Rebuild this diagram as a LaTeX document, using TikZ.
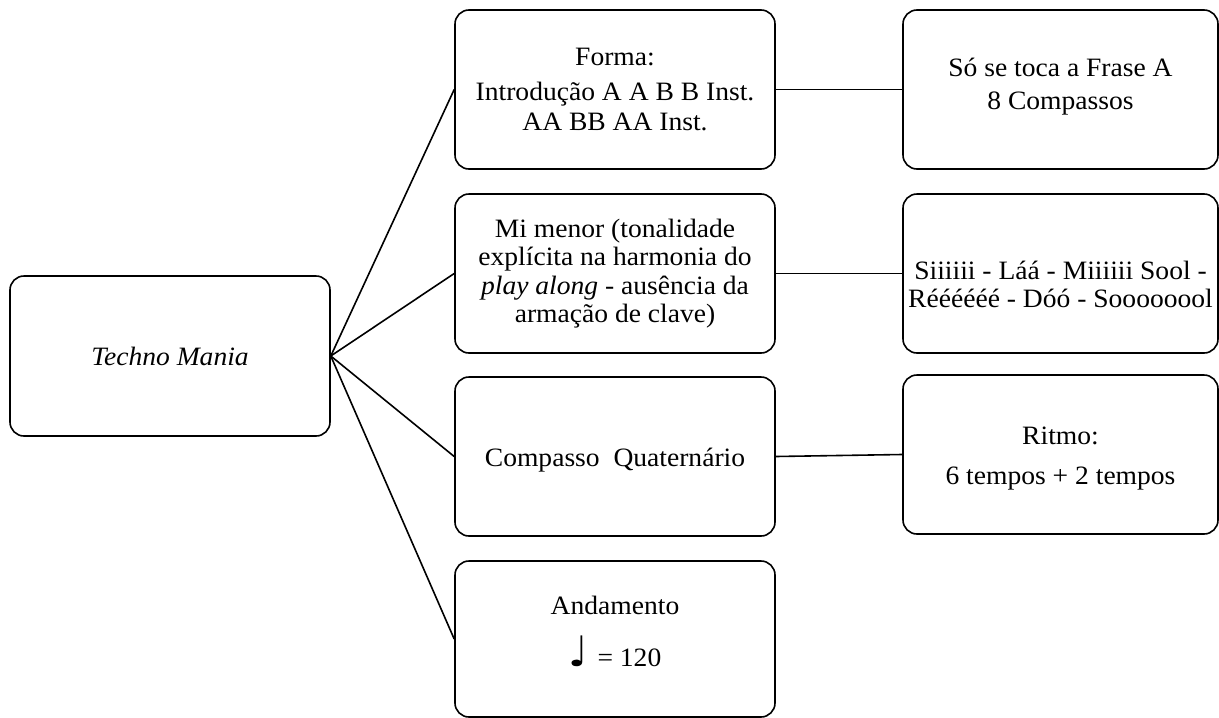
\documentclass[tikz,border=0pt]{standalone}
\usepackage{fontspec}
\setmainfont[FakeStretch=1.04]{Liberation Serif}
\newfontfamily\symfont{DejaVu Sans}
\begin{document}
\begin{tikzpicture}[x=1pt,y=-1pt,
  box/.style={draw, line width=1.6pt, rounded corners=14pt,
    minimum width=320pt, minimum height=159pt, inner sep=0pt},
  rbox/.style={box, minimum width=315pt},
  txt/.style={align=center, inner sep=0pt, font=\fontsize{26.5}{28.5}\selectfont},
  link/.style={line width=1.6pt}]
\useasboundingbox (0,0) rectangle (1219,718);
\node[box, minimum height=160pt] (root) at (170,356) {};
\node[box] (m1) at (615,89.5) {};
\node[box] (m2) at (615,273.5) {};
\node[box] (m3) at (615,456.5) {};
\node[box, minimum height=156pt] (m4) at (615,639) {};
\node[rbox] (r1) at (1060.5,89.5) {};
\node[rbox] (r2) at (1060.5,273.5) {};
\node[rbox] (r3) at (1060.5,454.5) {};
\node[txt] (roott) at (root.center) {\textit{Techno Mania}};
\node[txt] (m1t) at (m1.center) {Forma:\\[7pt]Introdução A A B B Inst.\\[1pt]AA BB AA Inst.};
\node[txt] (m2t) at (m2.center) {Mi menor (tonalidade\\explícita na harmonia do\\\textit{play along} - ausência da\\armação de clave)};
\node[txt, yshift=-4pt] (m3t) at (m3.center) {Compasso\ \ Quaternário};
\node[txt, yshift=8pt] (m4t) at (m4.center) {Andamento\\[20pt]{\symfont\fontsize{42}{42}\selectfont ♩}\hspace{9pt}= 120};
\node[txt, yshift=3pt] (r1t) at (r1.center) {Só se toca a Frase A\\[4pt]8 Compassos};
\node[txt, yshift=-11pt] (r2t) at (r2.center) {Siiiiii - Láá - Miiiiii Sool -\\Réééééé\ - Dóó - Soooooool};
\node[txt, yshift=-4pt] (r3t) at (r3.center) {Ritmo:\\[12pt]6 tempos + 2 tempos};
\foreach \m in {m1,m2,m3,m4} \draw[link] (root.east) -- (\m.west);
\draw[link] (m1.east) -- (r1.west);
\draw[link] (m2.east) -- (r2.west);
\draw[link] (m3.east) -- (r3.west);
\end{tikzpicture}
\end{document}
